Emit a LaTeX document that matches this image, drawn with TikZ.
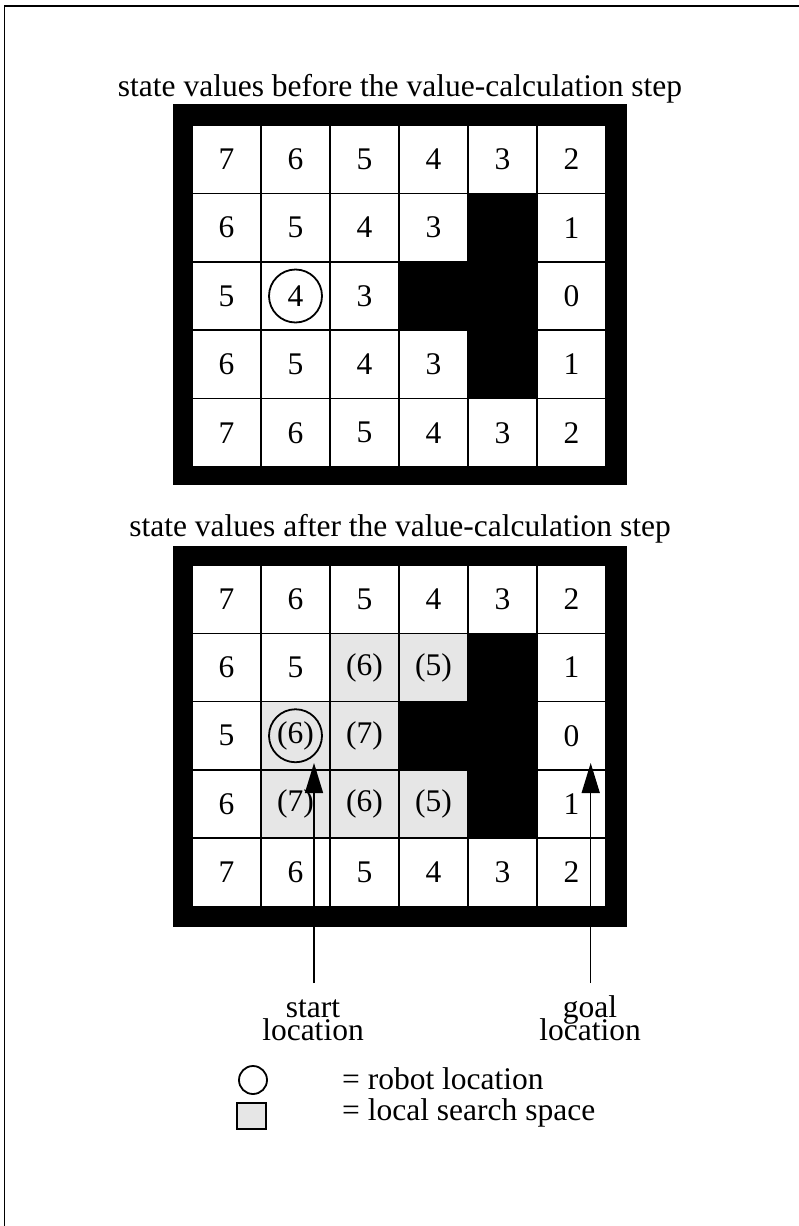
\documentclass[tikz,border=0pt]{standalone}
\usepackage{fontspec}
\setmainfont{Liberation Serif}
\usetikzlibrary{arrows.meta}
\definecolor{lss}{HTML}{E6E6E6}
\tikzset{
  txt/.style={font=\fontsize{31.5}{34}\selectfont, inner sep=0pt},
  cellbox/.style={draw=black, line width=1.5pt, minimum width=69pt, minimum height=68.4pt, inner sep=0pt, font=\fontsize{31.5}{34}\selectfont},
  wcell/.style={cellbox, fill=white},
  gcell/.style={cellbox, fill=lss},
  bcell/.style={cellbox, fill=black},
  robot/.style={circle, draw=black, line width=1.8pt, minimum size=53pt, inner sep=0pt},
  pointer/.style={line width=1.5pt, -{Triangle[length=30pt,width=18pt]}},
  frameline/.style={line width=1.6pt, draw=black}
}
\begin{document}
\begin{tikzpicture}[x=1pt,y=-1pt]
\useasboundingbox (0,0) rectangle (799,1226);
\fill[white] (0,0) rectangle (799,1226);
% page frame (left and top only)
\coordinate (fA) at (4.5,1226);
\coordinate (fB) at (4.5,6);
\coordinate (fC) at (799,6);
\draw[frameline] (fA) -- (fB) -- (fC);

% ---------- grid 1 ----------
\node[txt, anchor=base] (title1) at (400,96) {state values before the value-calculation step};
\fill[black] (173,104) rectangle (627,485);
\foreach \c/\r/\s/\t in {
 1/1/wcell/7, 2/1/wcell/6, 3/1/wcell/5, 4/1/wcell/4, 5/1/wcell/3, 6/1/wcell/2,
 1/2/wcell/6, 2/2/wcell/5, 3/2/wcell/4, 4/2/wcell/3, 5/2/bcell/{}, 6/2/wcell/1,
 1/3/wcell/5, 2/3/wcell/4, 3/3/wcell/3, 4/3/bcell/{}, 5/3/bcell/{}, 6/3/wcell/0,
 1/4/wcell/6, 2/4/wcell/5, 3/4/wcell/4, 4/4/wcell/3, 5/4/bcell/{}, 6/4/wcell/1,
 1/5/wcell/7, 2/5/wcell/6, 3/5/wcell/5, 4/5/wcell/4, 5/5/wcell/3, 6/5/wcell/2}
{
  \node[\s] (a-\r-\c) at ({192+69*(\c-0.5)},{125+68.4*(\r-0.5)}) {\t};
}
\node[robot] (robot1) at (a-3-2) {};

% ---------- grid 2 ----------
\node[txt, anchor=base] (title2) at (400,536) {state values after the value-calculation step};
\fill[black] (173,546) rectangle (627,927);
\foreach \c/\r/\s/\t in {
 1/1/wcell/7, 2/1/wcell/6, 3/1/wcell/5, 4/1/wcell/4, 5/1/wcell/3, 6/1/wcell/2,
 1/2/wcell/6, 2/2/wcell/5, 3/2/gcell/(6), 4/2/gcell/(5), 5/2/bcell/{}, 6/2/wcell/1,
 1/3/wcell/5, 2/3/gcell/(6), 3/3/gcell/(7), 4/3/bcell/{}, 5/3/bcell/{}, 6/3/wcell/0,
 1/4/wcell/6, 2/4/gcell/(7), 3/4/gcell/(6), 4/4/gcell/(5), 5/4/bcell/{}, 6/4/wcell/1,
 1/5/wcell/7, 2/5/wcell/6, 3/5/wcell/5, 4/5/wcell/4, 5/5/wcell/3, 6/5/wcell/2}
{
  \node[\s] (b-\r-\c) at ({192+69*(\c-0.5)},{565+68.3*(\r-0.5)}) {\t};
}
\node[robot] (robot2) at (b-3-2) {};

% ---------- pointers ----------
\coordinate (s0) at (314,983);
\coordinate (s1) at (314,763);
\coordinate (g0) at (590.7,983);
\coordinate (g1) at (590.7,763);
\draw[pointer] (s0) -- (s1);
\draw[pointer] (g0) -- (g1);
\node[txt, anchor=base] (startA) at (313,1017) {start};
\node[txt, anchor=base] (startB) at (313,1040) {location};
\node[txt, anchor=base] (goalA) at (590,1017) {goal};
\node[txt, anchor=base] (goalB) at (590,1040) {location};

% ---------- legend ----------
\node[circle, draw=black, line width=1.8pt, minimum size=28pt, inner sep=0pt] (legcirc) at (253,1080) {};
\node[draw=black, fill=lss, line width=2pt, minimum width=29pt, minimum height=26pt, inner sep=0pt] (legsq) at (251.5,1115.5) {};
\node[txt, anchor=base west] (legA) at (342,1089) {= robot location};
\node[txt, anchor=base west] (legB) at (342,1120) {= local search space};
\end{tikzpicture}
\end{document}
